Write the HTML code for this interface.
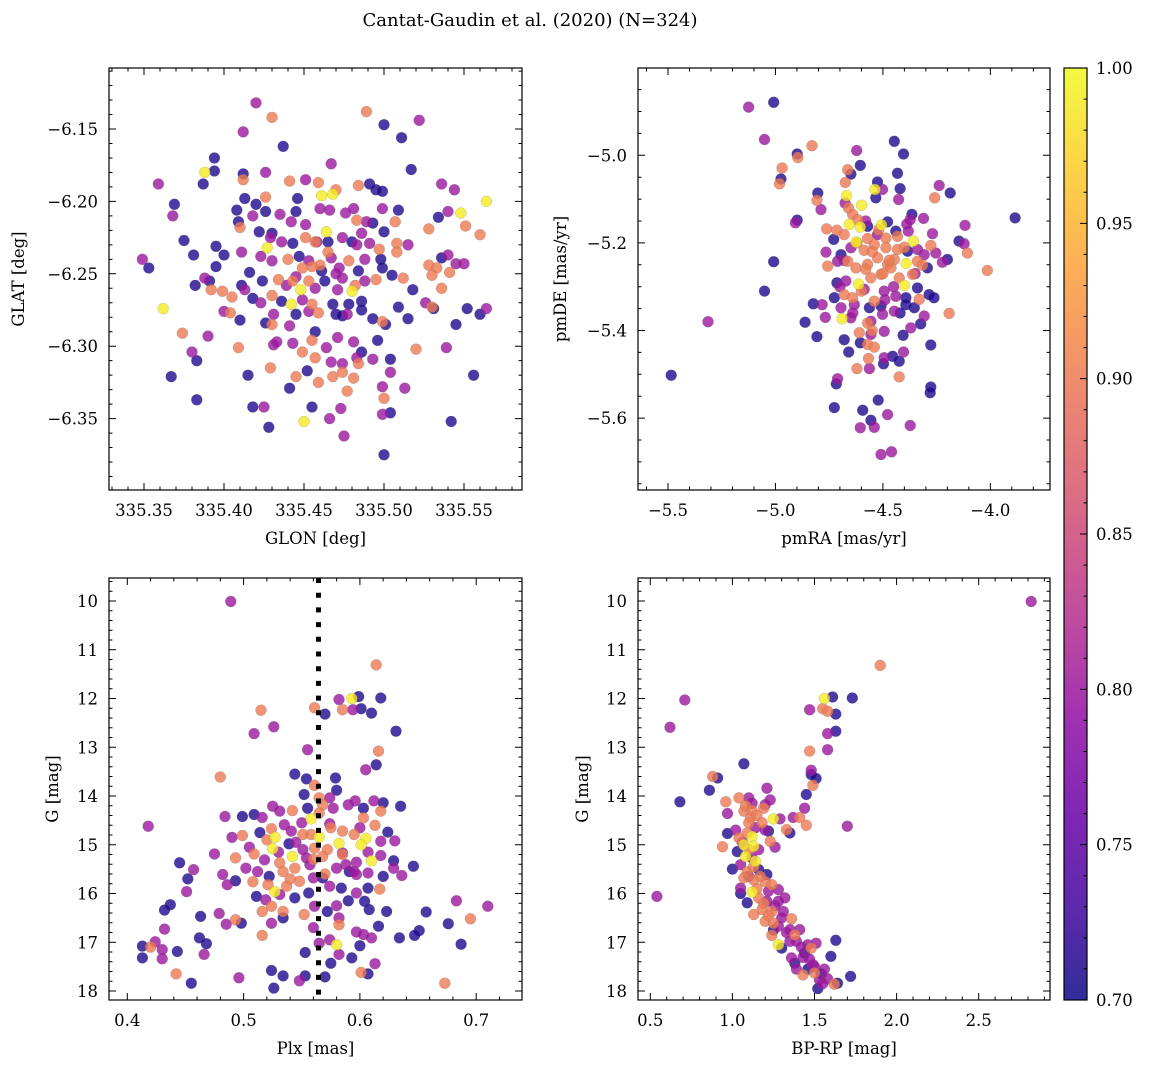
<!DOCTYPE html>
<html><head><meta charset="utf-8"><title>Cantat-Gaudin et al. (2020)</title>
<style>
html,body{margin:0;padding:0;background:#fff;}
svg{display:block;font-family:"DejaVu Serif","Liberation Serif",serif;}
</style></head>
<body>
<svg id="fig" width="1149" height="1067" viewBox="0 0 1149 1067" xmlns="http://www.w3.org/2000/svg">
<defs>
<linearGradient id="plasmaGrad" x1="0" y1="1" x2="0" y2="0">
<stop offset="0" stop-color="#0d0887"/><stop offset="0.1" stop-color="#41049d"/><stop offset="0.2" stop-color="#6a00a8"/><stop offset="0.3" stop-color="#8f0da4"/><stop offset="0.4" stop-color="#b12a90"/><stop offset="0.5" stop-color="#cc4778"/><stop offset="0.6" stop-color="#e16462"/><stop offset="0.7" stop-color="#f2844b"/><stop offset="0.8" stop-color="#fca636"/><stop offset="0.9" stop-color="#fcce25"/><stop offset="1" stop-color="#f0f921"/>
</linearGradient>
</defs>
<text x="530" y="26" font-size="18" text-anchor="middle">Cantat-Gaudin et al. (2020) (N=324)</text>
<g id="layer"></g>
</svg>
<script>
// ---------- DATA ----------
const p1Glon=[335.420,335.430,335.489,335.500,335.522,335.412,335.511,335.437,335.394,335.388,
335.394,335.467,335.517,335.359,335.387,335.412,335.426,335.412,335.441,335.451,
335.459,335.470,335.484,335.491,335.495,335.499,335.536,335.544,335.564,335.461,
335.468,335.413,335.426,335.446,335.369,335.368,335.408,335.420,335.418,335.426,
335.435,335.445,335.460,335.466,335.476,335.481,335.483,335.489,335.493,335.499,
335.509,335.507,335.534,335.540,335.548,335.551,335.560,335.528,335.409,335.410,
335.422,335.430,335.442,335.451,335.464,335.486,335.500,335.375,335.395,335.400,
335.381,335.411,335.427,335.429,335.436,335.443,335.451,335.457,335.465,335.474,
335.480,335.483,335.491,335.497,335.508,335.508,335.515,335.349,335.353,335.395,
335.416,335.424,335.423,335.430,335.447,335.449,335.453,335.460,335.461,335.467,
335.472,335.478,335.484,335.488,335.498,335.499,335.505,335.512,335.495,335.528,
335.533,335.536,335.540,335.545,335.550,335.530,335.541,335.388,335.391,335.382,
335.392,335.399,335.405,335.413,335.411,335.418,335.423,335.430,335.434,335.439,
335.443,335.448,335.453,335.457,335.463,335.471,335.474,335.480,335.482,335.488,
335.518,335.536,335.442,335.436,335.449,335.455,335.459,335.468,335.478,335.486,
335.486,335.477,335.400,335.404,335.410,335.426,335.430,335.431,335.441,335.445,
335.453,335.470,335.474,335.493,335.499,335.501,335.509,335.515,335.526,335.530,
335.531,335.545,335.552,335.560,335.564,335.362,335.374,335.390,335.380,335.383,
335.409,335.431,335.433,335.443,335.449,335.455,335.457,335.464,335.471,335.457,
335.467,335.474,335.481,335.486,335.483,335.484,335.493,335.496,335.504,335.504,
335.367,335.415,335.429,335.445,335.452,335.459,335.468,335.474,335.481,335.477,
335.441,335.499,335.500,335.513,335.383,335.418,335.425,335.455,335.473,335.504,
335.499,335.450,335.466,335.428,335.475,335.542,335.556,335.520,335.539,335.500,
335.455,335.445,335.465,335.440,335.470,335.458];
const p1Glat=[-6.132,-6.142,-6.138,-6.147,-6.144,-6.152,-6.156,-6.162,-6.170,-6.180,
-6.179,-6.174,-6.178,-6.188,-6.188,-6.181,-6.180,-6.185,-6.186,-6.185,
-6.187,-6.192,-6.189,-6.188,-6.192,-6.193,-6.188,-6.192,-6.200,-6.196,
-6.195,-6.198,-6.197,-6.198,-6.202,-6.210,-6.206,-6.202,-6.210,-6.207,
-6.209,-6.207,-6.205,-6.206,-6.208,-6.205,-6.213,-6.214,-6.215,-6.205,
-6.206,-6.214,-6.211,-6.207,-6.208,-6.217,-6.223,-6.219,-6.214,-6.218,
-6.221,-6.222,-6.214,-6.216,-6.221,-6.222,-6.221,-6.227,-6.231,-6.237,
-6.237,-6.235,-6.232,-6.225,-6.228,-6.229,-6.225,-6.228,-6.228,-6.225,
-6.228,-6.230,-6.229,-6.233,-6.229,-6.235,-6.230,-6.240,-6.246,-6.245,
-6.249,-6.255,-6.238,-6.241,-6.238,-6.246,-6.241,-6.244,-6.248,-6.239,
-6.246,-6.241,-6.248,-6.240,-6.240,-6.246,-6.251,-6.253,-6.254,-6.244,
-6.246,-6.239,-6.237,-6.243,-6.243,-6.251,-6.249,-6.253,-6.255,-6.258,
-6.261,-6.262,-6.266,-6.261,-6.258,-6.267,-6.270,-6.265,-6.254,-6.258,
-6.255,-6.261,-6.255,-6.260,-6.255,-6.261,-6.253,-6.262,-6.258,-6.255,
-6.261,-6.260,-6.271,-6.269,-6.268,-6.271,-6.277,-6.271,-6.271,-6.269,
-6.275,-6.278,-6.276,-6.277,-6.282,-6.284,-6.285,-6.278,-6.286,-6.278,
-6.276,-6.278,-6.279,-6.281,-6.283,-6.285,-6.273,-6.281,-6.270,-6.273,
-6.274,-6.285,-6.274,-6.278,-6.274,-6.274,-6.291,-6.293,-6.304,-6.310,
-6.301,-6.299,-6.297,-6.298,-6.304,-6.296,-6.290,-6.301,-6.294,-6.308,
-6.311,-6.312,-6.297,-6.304,-6.308,-6.312,-6.309,-6.296,-6.309,-6.318,
-6.321,-6.320,-6.315,-6.321,-6.317,-6.325,-6.321,-6.318,-6.322,-6.331,
-6.329,-6.328,-6.336,-6.329,-6.337,-6.342,-6.342,-6.342,-6.343,-6.346,
-6.347,-6.352,-6.350,-6.356,-6.362,-6.352,-6.320,-6.302,-6.301,-6.375,
-6.245,-6.252,-6.235,-6.240,-6.250,-6.228];
const p1Prob=[.8,.9,.9,.71,.8,.8,.71,.71,.71,.99,
.71,.8,.71,.8,.71,.71,.8,.9,.9,.8,
.9,.9,.9,.71,.71,.71,.8,.8,.99,.99,
.99,.71,.9,.71,.71,.8,.71,.71,.8,.71,
.8,.71,.8,.8,.8,.8,.9,.8,.71,.8,
.71,.9,.71,.8,.99,.9,.9,.9,.71,.9,
.71,.71,.8,.8,.99,.8,.71,.71,.71,.71,
.71,.8,.99,.8,.8,.71,.9,.9,.71,.8,
.71,.8,.8,.9,.9,.9,.8,.8,.71,.71,
.71,.71,.8,.8,.71,.9,.8,.9,.71,.8,
.8,.9,.71,.8,.71,.71,.71,.9,.9,.9,
.9,.71,.8,.8,.8,.9,.9,.8,.71,.71,
.9,.9,.9,.8,.71,.71,.8,.9,.9,.8,
.9,.99,.9,.8,.71,.8,.8,.99,.9,.8,
.71,.9,.99,.71,.8,.9,.9,.71,.71,.71,
.71,.8,.8,.9,.71,.71,.9,.8,.8,.71,
.8,.71,.71,.71,.9,.71,.71,.71,.8,.9,
.71,.71,.71,.71,.8,.99,.9,.8,.8,.71,
.9,.8,.8,.8,.9,.9,.71,.8,.8,.9,
.8,.8,.8,.71,.8,.9,.8,.71,.71,.8,
.71,.71,.9,.9,.71,.9,.9,.9,.9,.9,
.71,.8,.9,.8,.71,.71,.8,.71,.8,.71,
.8,.99,.8,.71,.8,.71,.71,.9,.8,.71,
.9,.8,.9,.9,.8,.8];

const p2Pmra=[-5.125,-5.008,-5.051,-4.830,-4.899,-4.896,-4.622,-4.447,-4.404,-4.969,
-4.974,-4.981,-4.664,-4.649,-4.605,-4.675,-4.432,-4.803,-4.807,-4.788,
-4.669,-4.676,-4.537,-4.533,-4.502,-4.525,-4.420,-4.427,-4.599,-4.238,
-4.187,-4.259,-4.899,-4.907,-3.885,-4.641,-4.618,-4.656,-4.605,-4.571,
-4.506,-4.478,-4.365,-4.373,-4.311,-4.389,-4.762,-4.714,-4.729,-4.680,
-4.625,-4.571,-4.525,-4.486,-4.440,-4.432,-4.382,-4.358,-4.269,-4.118,
-4.146,-4.122,-4.107,-4.277,-4.308,-4.254,-4.200,-4.223,-4.765,-4.695,
-4.649,-4.587,-4.540,-4.486,-4.432,-4.385,-4.339,-5.008,-4.757,-4.711,
-4.664,-4.625,-4.571,-4.525,-4.478,-4.447,-4.392,-4.339,-4.293,-4.316,
-4.014,-4.714,-4.672,-4.613,-4.556,-4.509,-4.463,-4.424,-4.401,-4.362,
-4.339,-5.051,-4.726,-4.680,-4.641,-4.587,-4.540,-4.494,-4.440,-4.393,
-4.331,-4.285,-4.262,-4.824,-4.783,-4.695,-4.633,-4.563,-4.509,-4.447,
-4.393,-4.354,-4.192,-4.768,-4.862,-4.690,-4.649,-4.571,-4.556,-4.502,
-4.308,-4.324,-5.314,-4.807,-4.680,-4.610,-4.556,-4.494,-4.406,-4.370,
-4.605,-4.571,-4.540,-4.659,-4.494,-4.455,-4.424,-4.404,-4.277,-4.567,
-4.621,-4.563,-4.497,-4.424,-5.485,-4.711,-4.717,-4.277,-4.280,-4.522,
-4.726,-4.594,-4.478,-4.556,-4.605,-4.540,-4.373,-4.509,-4.460,
-4.62,-4.55,-4.50,-4.58,-4.45,-4.68,-4.52,-4.40,-4.60,-4.47,
-4.70,-4.64,-4.55,-4.42,-4.35,-4.58,-4.66,-4.49];
const p2Pmde=[-4.890,-4.879,-4.964,-4.978,-4.997,-5.005,-4.989,-4.968,-4.997,-5.029,
-5.054,-5.065,-5.033,-5.043,-5.023,-5.062,-5.041,-5.086,-5.103,-5.124,
-5.092,-5.109,-5.078,-5.097,-5.078,-5.061,-5.076,-5.101,-5.114,-5.069,
-5.086,-5.097,-5.148,-5.154,-5.143,-5.135,-5.147,-5.158,-5.164,-5.162,
-5.159,-5.152,-5.135,-5.147,-5.144,-5.157,-5.168,-5.171,-5.192,-5.181,
-5.198,-5.190,-5.181,-5.189,-5.173,-5.185,-5.173,-5.196,-5.179,-5.160,
-5.196,-5.202,-5.223,-5.206,-5.227,-5.223,-5.238,-5.244,-5.221,-5.227,
-5.211,-5.217,-5.204,-5.211,-5.215,-5.219,-5.215,-5.243,-5.253,-5.242,
-5.242,-5.257,-5.249,-5.234,-5.249,-5.238,-5.247,-5.242,-5.257,-5.251,
-5.263,-5.291,-5.287,-5.294,-5.280,-5.272,-5.257,-5.280,-5.297,-5.272,
-5.303,-5.310,-5.325,-5.318,-5.325,-5.306,-5.333,-5.310,-5.322,-5.325,
-5.329,-5.318,-5.325,-5.339,-5.341,-5.348,-5.341,-5.348,-5.344,-5.356,
-5.341,-5.348,-5.361,-5.370,-5.381,-5.373,-5.371,-5.383,-5.379,-5.363,
-5.367,-5.385,-5.380,-5.414,-5.421,-5.405,-5.409,-5.402,-5.411,-5.394,
-5.428,-5.432,-5.438,-5.449,-5.462,-5.459,-5.470,-5.449,-5.433,-5.464,
-5.487,-5.487,-5.476,-5.506,-5.502,-5.510,-5.522,-5.529,-5.542,-5.559,
-5.576,-5.582,-5.592,-5.605,-5.622,-5.621,-5.617,-5.683,-5.677,
-5.20,-5.22,-5.27,-5.26,-5.30,-5.24,-5.17,-5.21,-5.31,-5.24,
-5.30,-5.36,-5.40,-5.36,-5.27,-5.15,-5.12,-5.33];
const p2Prob=[.8,.71,.8,.9,.71,.9,.8,.71,.71,.9,
.71,.9,.9,.71,.71,.9,.71,.71,.9,.8,
.99,.8,.99,.71,.8,.71,.71,.8,.99,.8,
.71,.9,.71,.8,.71,.9,.9,.99,.99,.71,
.99,.71,.71,.8,.8,.8,.9,.9,.71,.9,
.99,.9,.8,.9,.71,.9,.8,.99,.8,.8,
.71,.8,.9,.9,.8,.8,.71,.8,.8,.71,
.8,.9,.9,.9,.9,.71,.8,.71,.9,.8,
.9,.9,.9,.9,.9,.9,.99,.9,.71,.9,
.9,.71,.8,.99,.9,.9,.9,.9,.99,.9,
.71,.71,.71,.9,.9,.8,.9,.8,.8,.71,
.9,.71,.71,.71,.8,.8,.8,.71,.71,.8,
.71,.71,.9,.8,.71,.99,.8,.9,.8,.8,
.8,.71,.8,.71,.71,.9,.8,.8,.71,.8,
.71,.9,.9,.71,.8,.71,.71,.8,.71,.9,
.9,.8,.71,.9,.71,.8,.71,.71,.71,.71,
.71,.71,.8,.71,.8,.8,.8,.8,.8,
.9,.9,.9,.9,.8,.8,.9,.9,.9,.9,
.8,.8,.9,.71,.8,.8,.9,.8];

const p3Plx=[.489,.614,.593,.582,.599,.618,.561,.570,.585,.594,
.601,.610,.515,.526,.509,.631,.555,.616,.614,.605,
.480,.544,.554,.561,.579,.580,.552,.565,.574,.418,
.484,.499,.509,.516,.525,.531,.542,.555,.558,.568,
.577,.590,.596,.603,.612,.620,.618,.635,.490,.499,
.514,.524,.527,.535,.541,.551,.558,.565,.574,.582,
.585,.595,.603,.605,.613,.624,.630,.525,.539,.542,
.551,.561,.572,.585,.601,.607,.618,.475,.493,.509,
.518,.531,.554,.568,.588,.597,.610,.618,.629,.445,
.457,.452,.482,.502,.512,.522,.534,.544,.557,.568,
.580,.591,.597,.607,.629,.636,.646,.486,.493,.508,
.521,.527,.537,.548,.560,.574,.584,.597,.607,.617,
.451,.432,.437,.511,.519,.531,.544,.556,.561,.572,
.590,.604,.608,.623,.657,.683,.710,.463,.479,.485,
.493,.498,.516,.524,.534,.534,.524,.552,.582,.582,
.616,.676,.695,.432,.462,.468,.516,.597,.603,.610,
.634,.651,.647,.687,.413,.424,.420,.430,.413,.430,
.443,.466,.553,.565,.580,.574,.600,.575,.582,.593,
.613,.442,.455,.496,.524,.534,.526,.548,.553,.570,
.601,.607,.673,
.565,.575,.545,.560,.585,.530,.540,.595,.570,.550,
.600,.520,.580,.560,.620,.505];
const p3G=[10.01,11.31,12.00,12.02,11.96,11.99,12.19,12.32,12.23,12.23,
12.21,12.30,12.24,12.58,12.72,12.67,13.05,13.08,13.36,13.46,
13.61,13.55,13.65,13.78,13.63,13.88,13.97,14.04,14.04,14.62,
14.42,14.42,14.38,14.44,14.21,14.31,14.30,14.25,14.47,14.18,
14.25,14.18,14.10,14.25,14.10,14.14,14.31,14.21,14.85,14.81,
14.75,14.67,14.85,14.59,14.72,14.79,14.79,14.84,14.57,14.97,
14.72,14.79,14.45,14.87,14.60,14.74,14.92,15.08,14.98,15.24,
15.10,15.07,15.10,15.17,15.00,15.15,14.93,15.19,15.27,15.19,
15.31,15.37,15.27,15.24,15.41,15.36,15.33,15.22,15.33,15.37,
15.51,15.70,15.61,15.48,15.55,15.65,15.55,15.48,15.41,15.68,
15.48,15.55,15.61,15.58,15.48,15.63,15.44,15.82,15.74,15.76,
15.82,15.96,15.85,15.75,15.68,15.85,15.89,15.99,15.89,15.91,
15.96,16.34,16.23,16.06,16.13,16.02,16.09,15.99,16.26,16.37,
16.15,16.16,16.33,16.37,16.38,16.15,16.26,16.47,16.41,16.63,
16.54,16.61,16.37,16.26,16.37,16.50,16.61,16.43,16.64,16.50,
16.67,16.62,16.52,16.73,16.91,17.03,16.86,16.79,16.84,16.91,
16.91,16.76,16.86,17.04,17.08,16.99,17.10,17.15,17.32,17.34,
17.19,17.25,17.21,17.02,17.05,16.95,17.07,17.43,17.25,17.32,
17.44,17.65,17.84,17.73,17.58,17.69,17.94,17.79,17.69,17.71,
17.62,17.65,17.84,
14.35,14.65,14.95,15.30,15.20,15.15,15.70,15.55,15.60,14.55,
14.65,14.90,16.25,16.70,15.65,15.05];
const p3Prob=[.8,.9,.99,.8,.71,.71,.9,.71,.9,.8,
.71,.71,.9,.8,.8,.71,.8,.9,.71,.8,
.9,.71,.71,.9,.71,.71,.71,.9,.8,.8,
.8,.71,.71,.8,.8,.8,.9,.71,.99,.9,
.8,.8,.8,.71,.8,.71,.9,.71,.8,.9,
.71,.9,.99,.8,.8,.9,.9,.99,.8,.99,
.9,.9,.9,.99,.9,.71,.8,.99,.71,.99,
.8,.9,.9,.8,.99,.8,.8,.8,.9,.9,
.8,.9,.8,.9,.8,.8,.99,.8,.71,.71,
.8,.71,.8,.8,.8,.71,.9,.9,.8,.71,
.8,.71,.8,.8,.8,.8,.71,.8,.71,.9,
.9,.99,.9,.9,.8,.8,.71,.8,.71,.9,
.8,.71,.71,.71,.8,.8,.71,.71,.8,.71,
.71,.71,.71,.71,.71,.8,.8,.71,.8,.8,
.9,.71,.9,.9,.9,.71,.8,.9,.9,.8,
.71,.71,.9,.8,.71,.71,.9,.8,.8,.8,
.71,.71,.71,.71,.71,.8,.9,.8,.71,.8,
.71,.8,.71,.8,.99,.8,.71,.71,.8,.71,
.8,.9,.71,.8,.71,.71,.71,.8,.71,.71,
.9,.71,.9,
.9,.9,.8,.9,.9,.8,.9,.8,.9,.8,
.8,.9,.8,.8,.71,.8];

const p4Bprp=[2.82,1.90,0.71,0.62,1.56,1.61,1.73,1.47,1.55,1.58,
1.63,1.63,1.58,1.58,1.47,1.07,1.48,1.48,1.51,1.49,
0.91,0.88,0.86,0.68,1.21,1.45,1.44,0.96,1.04,1.10,
1.20,1.23,0.97,1.07,1.11,1.19,1.25,1.29,1.37,1.41,
1.45,1.33,1.35,1.70,0.97,1.04,1.09,1.12,1.22,1.23,
0.94,1.07,1.13,1.12,1.08,1.14,1.03,1.05,1.09,1.16,
1.21,1.07,1.13,1.20,1.24,1.28,1.05,1.12,1.09,1.16,
1.21,1.28,1.32,1.18,1.24,1.31,1.36,1.13,1.20,1.25,
1.28,1.35,1.41,1.24,1.28,1.30,1.35,1.39,1.46,1.51,
1.48,1.36,1.43,1.44,1.60,1.63,1.38,1.49,1.43,1.50,
1.54,1.53,1.52,1.64,1.62,1.72,0.54,
1.08,1.12,1.15,1.10,1.14,1.18,1.06,1.10,1.16,1.13,
1.10,1.17,1.15,1.22,1.19,1.26,1.30,1.22,1.33,1.38,
1.42,1.47,1.50,1.56,1.58,1.46,1.05,1.25,1.39,1.55,
1.12,1.20,1.02,1.26,1.00];
const p4G=[10.01,11.32,12.03,12.59,12.00,11.97,11.99,12.23,12.21,12.26,
12.32,12.67,12.72,13.05,13.08,13.34,13.47,13.56,13.64,13.78,
13.63,13.60,13.88,14.12,13.84,13.97,14.25,14.12,14.04,14.04,
14.18,14.08,14.36,14.31,14.45,14.25,14.47,14.47,14.44,14.44,
14.60,14.69,14.76,14.62,14.77,14.86,14.76,14.83,14.72,14.93,
15.04,15.00,15.03,15.27,15.24,15.34,15.14,15.41,15.55,15.51,
15.61,15.68,15.72,15.76,15.82,15.92,15.89,15.97,16.19,16.09,
16.16,16.16,16.09,16.33,16.37,16.37,16.52,16.43,16.57,16.61,
16.67,16.74,16.74,16.86,17.05,17.12,16.98,16.98,17.05,17.02,
17.12,17.32,17.31,17.22,17.29,16.96,17.43,17.46,17.67,17.63,
17.65,17.77,17.95,17.84,17.86,17.70,16.06,
14.20,14.30,14.40,14.55,14.65,14.55,14.95,15.10,15.10,15.45,
15.65,15.65,15.90,15.95,16.20,16.25,16.50,16.45,16.80,16.85,
17.10,17.35,17.50,17.55,17.75,17.55,16.00,16.75,17.55,17.85,
14.15,14.70,14.70,15.05,15.50];
const p4Prob=[.8,.9,.8,.8,.99,.71,.71,.8,.9,.9,
.71,.71,.8,.8,.9,.71,.8,.71,.71,.9,
.71,.9,.71,.71,.8,.71,.8,.9,.9,.8,
.8,.8,.8,.9,.9,.9,.99,.8,.8,.9,
.9,.9,.71,.8,.71,.9,.9,.99,.71,.9,
.9,.99,.99,.8,.99,.99,.71,.8,.9,.71,
.71,.9,.9,.9,.9,.8,.8,.99,.71,.9,
.8,.8,.8,.9,.9,.8,.9,.9,.9,.9,
.8,.8,.8,.9,.99,.71,.8,.8,.8,.8,
.9,.8,.8,.71,.71,.71,.71,.8,.9,.9,
.71,.8,.71,.71,.9,.71,.8,
.9,.9,.9,.9,.8,.9,.8,.9,.8,.9,
.8,.9,.9,.8,.9,.8,.8,.9,.8,.9,
.8,.8,.8,.8,.8,.71,.71,.71,.8,.8,
.8,.8,.8,.8,.71];

const plxRef=[0.5644];
const p1XTicks=[335.35,335.40,335.45,335.50,335.55];
const p1YTicks=[-6.15,-6.20,-6.25,-6.30,-6.35];
const p2XTicks=[-5.5,-5.0,-4.5,-4.0];
const p2YTicks=[-5.0,-5.2,-5.4,-5.6];
const p3XTicks=[0.4,0.5,0.6,0.7];
const gTicks=[10,11,12,13,14,15,16,17,18];
const p4XTicks=[0.5,1.0,1.5,2.0,2.5];
const cbTicks=[0.70,0.75,0.80,0.85,0.90,0.95,1.00];

// ---------- RENDER ----------
const NS='http://www.w3.org/2000/svg';
const layer=document.getElementById('layer');
function mk(tag,attrs,parent){const e=document.createElementNS(NS,tag);for(const k in attrs)e.setAttribute(k,attrs[k]);(parent||layer).appendChild(e);return e;}
const stops=[[0,13,8,135],[.1,65,4,157],[.2,106,0,168],[.3,143,13,164],[.4,177,42,144],[.5,204,71,120],[.6,225,100,98],[.7,242,132,75],[.8,252,166,54],[.9,252,206,37],[1,240,249,33]];
function plasma(c){let t=Math.max(0,Math.min(1,(c-0.7)/0.3));for(let i=1;i<stops.length;i++){if(t<=stops[i][0]){const a=stops[i-1],b=stops[i],f=(t-a[0])/(b[0]-a[0]);return 'rgb('+[1,2,3].map(j=>Math.round(a[j]+(b[j]-a[j])*f)).join(',')+')';}}return 'rgb(240,249,33)';}
const minus=s=>s.replace('-','\u2212');

const panels=[
 {id:'p1',x0:109,x1:522,y0:68,y1:490,sx:v=>144+(v-335.35)*1600,sy:v=>129+(-6.15-v)*1448,
  xs:p1Glon,ys:p1Glat,cs:p1Prob,xt:p1XTicks,yt:p1YTicks,xd:2,yd:2,xm:[335.32,335.59,0.01],ym:[-6.40,-6.10,0.01],xl:'GLON [deg]',yl:'GLAT [deg]',ylx:24},
 {id:'p2',x0:638,x1:1050,y0:68,y1:490,sx:v=>668+(v+5.5)*214.9,sy:v=>155.3+(-5.0-v)*438,
  xs:p2Pmra,ys:p2Pmde,cs:p2Prob,xt:p2XTicks,yt:p2YTicks,xd:1,yd:1,xm:[-5.7,-3.7,0.1],ym:[-5.8,-4.75,0.05],xl:'pmRA [mas/yr]',yl:'pmDE [mas/yr]',ylx:566},
 {id:'p3',x0:109,x1:522,y0:578,y1:1000,sx:v=>127.3+(v-0.4)*1163,sy:v=>601+(v-10)*48.75,
  xs:p3Plx,ys:p3G,cs:p3Prob,xt:p3XTicks,yt:gTicks,xd:1,yd:0,xm:[0.38,0.74,0.02],ym:[9.6,18.2,0.2],xl:'Plx [mas]',yl:'G [mag]',ylx:58},
 {id:'p4',x0:638,x1:1050,y0:578,y1:1000,sx:v=>650.3+(v-0.5)*164.2,sy:v=>601+(v-10)*48.75,
  xs:p4Bprp,ys:p4G,cs:p4Prob,xt:p4XTicks,yt:gTicks,xd:1,yd:0,xm:[0.4,2.95,0.1],ym:[9.6,18.2,0.2],xl:'BP-RP [mag]',yl:'G [mag]',ylx:588}
];

panels.forEach(p=>{
  const g=mk('g',{});
  
  
  const clipId='clip-'+p.id;
  const cp=mk('clipPath',{id:clipId},g);
  mk('rect',{x:p.x0,y:p.y0,width:p.x1-p.x0,height:p.y1-p.y0},cp);
  const pts=mk('g',{'clip-path':'url(#'+clipId+')'},g);
  
  
  const idx=p.xs.map((_,i)=>i).sort((a,b)=>p.cs[a]-p.cs[b]);
  idx.forEach(i=>{
    const c=mk('circle',{cx:p.sx(p.xs[i]).toFixed(1),cy:p.sy(p.ys[i]).toFixed(1),r:5.5,fill:plasma(p.cs[i]),'fill-opacity':0.8,stroke:'#666','stroke-opacity':0.35,'stroke-width':0.5},pts);
    
    
  });
  if(p.id==='p3'){
    const l=mk('line',{x1:p.sx(plxRef[0]),x2:p.sx(plxRef[0]),y1:p.y0,y2:p.y1,stroke:'#000','stroke-width':5,'stroke-dasharray':'5 9.7'},g);
    
    
  }
  const fr=mk('rect',{x:p.x0,y:p.y0,width:p.x1-p.x0,height:p.y1-p.y0,fill:'none',stroke:'#000','stroke-width':1.2},g);
  
  
  let d='';
  for(let v=p.xm[0];v<=p.xm[1]+1e-9;v+=p.xm[2]){const x=p.sx(v);if(x>p.x0+0.5&&x<p.x1-0.5){d+=`M${x} ${p.y1}v-3.5M${x} ${p.y0}v3.5`;}}
  for(let v=p.ym[0];v<=p.ym[1]+1e-9;v+=p.ym[2]){const y=p.sy(v);if(y>p.y0+0.5&&y<p.y1-0.5){d+=`M${p.x0} ${y}h3.5M${p.x1} ${y}h-3.5`;}}
  p.xt.forEach(v=>{const x=p.sx(v);d+=`M${x} ${p.y1}v-7M${x} ${p.y0}v7`;});
  p.yt.forEach(v=>{const y=p.sy(v);d+=`M${p.x0} ${y}h7M${p.x1} ${y}h-7`;});
  mk('path',{d:d,stroke:'#000','stroke-width':1,fill:'none'},g);
  p.xt.forEach(v=>{
    const t=mk('text',{x:p.sx(v),y:p.y1+26,'font-size':16.5,'text-anchor':'middle'},g);
    t.textContent=minus(v.toFixed(p.xd));
    
    
  });
  p.yt.forEach(v=>{
    const t=mk('text',{x:p.x0-11,y:p.sy(v)+6,'font-size':16.5,'text-anchor':'end'},g);
    t.textContent=minus(v.toFixed(p.yd));
    
    
  });
  const xl=mk('text',{x:(p.x0+p.x1)/2,y:p.y1+54,'font-size':16.5,'text-anchor':'middle'},g);
  xl.textContent=p.xl;
  
  
  const cy=(p.y0+p.y1)/2;
  const yl=mk('text',{x:p.ylx,y:cy,'font-size':16.5,'text-anchor':'middle',transform:`rotate(-90 ${p.ylx} ${cy})`},g);
  yl.textContent=p.yl;
  
  
});

const cbg=mk('g',{});


const cbx0=1064,cbx1=1087,cby0=68,cby1=1000;
const cbY=v=>cby1-(v-0.7)/0.3*(cby1-cby0);
mk('rect',{x:cbx0,y:cby0,width:cbx1-cbx0,height:cby1-cby0,fill:'url(#plasmaGrad)','fill-opacity':0.85},cbg);
mk('rect',{x:cbx0,y:cby0,width:cbx1-cbx0,height:cby1-cby0,fill:'none',stroke:'#000','stroke-width':1.2},cbg);
let cd='';
for(let i=0;i<=30;i++){const y=cbY(0.7+i*0.01);cd+=`M${cbx1} ${y}h-3.5`;}
cbTicks.forEach(v=>{const y=cbY(v);cd+=`M${cbx1} ${y}h-7`;});
mk('path',{d:cd,stroke:'#000','stroke-width':1,fill:'none'},cbg);
cbTicks.forEach(v=>{
  const t=mk('text',{x:1096,y:cbY(v)+6,'font-size':16.5},cbg);
  t.textContent=v.toFixed(2);
  
  
});
</script>
</body></html>
